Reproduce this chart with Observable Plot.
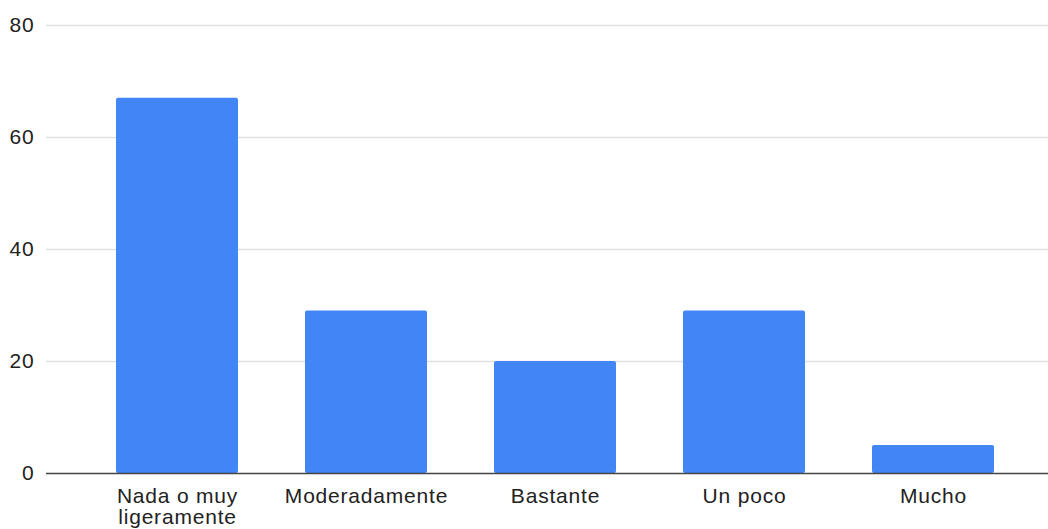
<!DOCTYPE html>
<html>
<head>
<meta charset="utf-8">
<script src="https://cdn.jsdelivr.net/npm/d3@7"></script>
<script src="https://cdn.jsdelivr.net/npm/@observablehq/plot@0.6"></script>
<style>
  html, body { margin: 0; padding: 0; background: #fff; }
  #chart svg { display: block; }
  #chart svg text { letter-spacing: 0.8px; }
</style>
</head>
<body>
<div id="chart"></div>
<script>
// Response categories and counts
const categories = ["Nada o muy\nligeramente", "Moderadamente", "Bastante", "Un poco", "Mucho"];
const counts = [67, 29, 20, 29, 5];
const yTicks = [0, 20, 40, 60, 80];

const rows = categories.map((c, i) => ({category: c, count: counts[i]}));

const chart = Plot.plot({
  width: 1048,
  height: 529,
  marginTop: 25,
  marginBottom: 56,
  marginLeft: 46,
  marginRight: 0,
  style: {fontFamily: "'Liberation Sans', Arial, sans-serif", fontSize: "21px", color: "#222", background: "#fff"},
  x: {domain: categories, range: [80, 1029.5], paddingInner: 0.352, paddingOuter: 0.176},
  y: {domain: [0, 80], ticks: yTicks},
  marks: [
    Plot.ruleY(yTicks.filter(d => d > 0), {stroke: "#e0e0e0", strokeWidth: 1.5}),
    Plot.barY(rows, {x: "category", y: "count", fill: "#4285f4", rx: 2}),
    Plot.ruleY([0], {stroke: "#444", strokeWidth: 1.5}),
    Plot.axisY({ticks: yTicks, tickSize: 0, tickPadding: 12, label: null, fontSize: 21, fill: "#222"}),
    Plot.axisX({tickSize: 0, tickPadding: 15, label: null, fontSize: 21, fill: "#222", lineHeight: 1.0})
  ]
});

document.getElementById("chart").appendChild(chart);
</script>
</body>
</html>
